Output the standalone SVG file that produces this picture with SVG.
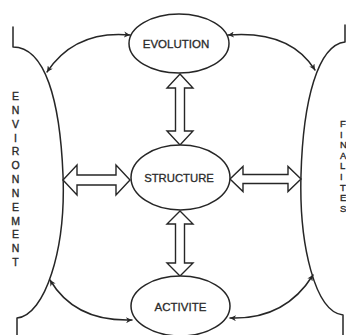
<svg xmlns="http://www.w3.org/2000/svg" width="346" height="335" viewBox="0 0 346 335">
<defs>
<style>
.ln{fill:none;stroke:#262626;stroke-width:1.5;stroke-linecap:round;stroke-linejoin:round}
.nd{fill:#fff;stroke:#262626;stroke-width:1.5}
.blk{fill:#fff;stroke:#262626;stroke-width:1.4;stroke-linejoin:miter}
.lb{font-family:"Liberation Sans",Arial,sans-serif;fill:#2a2a2a;stroke:#2a2a2a;stroke-width:0.3;text-anchor:middle}
.vt{font-family:"Liberation Sans",Arial,sans-serif;fill:#2a2a2a;stroke:#2a2a2a;stroke-width:0.35}
</style>
<marker id="ah" viewBox="0 0 10 10" refX="10" refY="5" markerWidth="8" markerHeight="6" markerUnits="userSpaceOnUse" orient="auto-start-reverse">
<path d="M0,0 L10,5 L0,10 L3,5 Z" fill="#262626"/>
</marker>
</defs>
<rect width="346" height="335" fill="#fff"/>

<g id="environnement">
<path class="ln" d="M13,27 V47 C45,47 60,100 63,175 C66,250 45,315 17,318 V335"/>
<text class="vt" font-size="10.5" text-anchor="middle"><tspan x="15.5" y="100">E</tspan><tspan x="15.5" y="113.8">N</tspan><tspan x="15.5" y="127.7">V</tspan><tspan x="15.5" y="141.5">I</tspan><tspan x="15.5" y="155.3">R</tspan><tspan x="15.5" y="169.2">O</tspan><tspan x="15.5" y="183">N</tspan><tspan x="15.5" y="196.8">N</tspan><tspan x="15.5" y="210.7">E</tspan><tspan x="15.5" y="224.5">M</tspan><tspan x="15.5" y="238.3">E</tspan><tspan x="15.5" y="252.2">N</tspan><tspan x="15.5" y="266">T</tspan></text>
</g>

<g id="finalites">
<path class="ln" d="M345,25 V42 C318,45 303,100 301,175 C299,245 315,312 343,315 V335"/>
<text class="vt" font-size="9.5"><tspan x="340" y="127">F</tspan><tspan x="340" y="137.6">I</tspan><tspan x="340" y="148.2">N</tspan><tspan x="340" y="158.8">A</tspan><tspan x="340" y="169.4">L</tspan><tspan x="340" y="180">I</tspan><tspan x="340" y="190.6">T</tspan><tspan x="340" y="201.2">E</tspan><tspan x="340" y="211.8">S</tspan></text>
</g>

<g id="connectors">
<path class="ln" d="M47,72 Q75,30 130,35" marker-start="url(#ah)" marker-end="url(#ah)"/>
<path class="ln" d="M228,35 Q290,30 315,70" marker-start="url(#ah)" marker-end="url(#ah)"/>
<path class="ln" d="M50,280 Q75,322 132,320" marker-start="url(#ah)" marker-end="url(#ah)"/>
<path class="ln" d="M230,318 Q285,320 313,275" marker-start="url(#ah)" marker-end="url(#ah)"/>
<polygon class="blk" points="63,180 77,165 77,175 116,175 116,165 130,180 116,195 116,185 77,185 77,195"/>
<polygon class="blk" points="230,179 243,166.5 243,174.5 288,174.5 288,166.5 301,179 288,191.5 288,183.5 243,183.5 243,191.5"/>
<polygon class="blk" points="180,74 193,88 184.5,88 184.5,131 193,131 180,145 167,131 175.5,131 175.5,88 167,88"/>
<polygon class="blk" points="180,211 193,224 184.5,224 184.5,263 193,263 180,276 167,263 175.5,263 175.5,224 167,224"/>
</g>

<g id="evolution">
<ellipse class="nd" cx="179" cy="43.5" rx="50" ry="29.5"/>
<text class="lb" x="176" y="47.5" font-size="11.5">EVOLUTION</text>
</g>

<g id="structure">
<ellipse class="nd" cx="180.5" cy="177.5" rx="49.5" ry="32.5"/>
<text class="lb" x="179" y="182" font-size="11.3">STRUCTURE</text>
</g>

<g id="activite">
<ellipse class="nd" cx="180.5" cy="306" rx="49.5" ry="30"/>
<text class="lb" x="180.5" y="311" font-size="11.5">ACTIVITE</text>
</g>
</svg>
